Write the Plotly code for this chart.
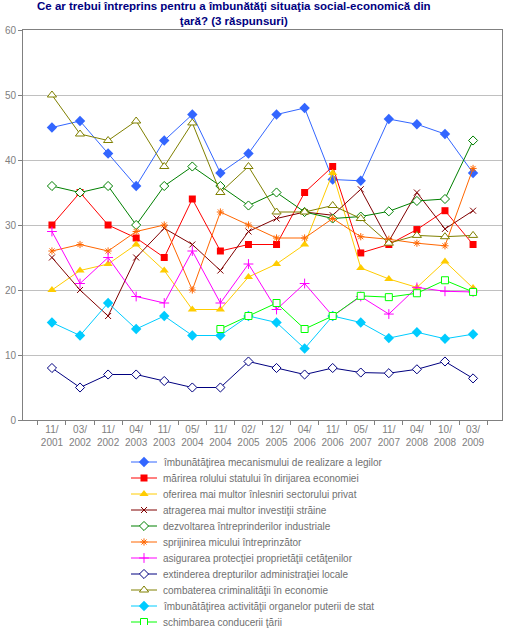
import plotly.graph_objects as go

# Perioadele sondajelor (axa X)
perioade = ["11/<br>2001", "03/<br>2002", "11/<br>2002", "04/<br>2003", "11/<br>2003",
            "05/<br>2004", "11/<br>2004", "02/<br>2005", "12/<br>2005", "04/<br>2006",
            "11/<br>2006", "05/<br>2007", "11/<br>2007", "04/<br>2008", "10/<br>2008",
            "03/<br>2009"]

# valori (%)
mecanism_legi = [45, 46, 41, 36, 43, 47, 38, 41, 47, 48, 37, 36.8, 46.3, 45.5, 44, 38]
rol_stat = [30, 35, 30, 28, 25, 34, 26, 27, 27, 35, 39, 25.7, 27, 29.3, 32.2, 27]
inlesniri_privat = [20, 23, 24, 27, 23, 17, 17, 22, 24, 27, 38, 23.4, 21.7, 20.4, 24.4, 20.3]
investitii_straine = [25, 20, 16, 25, 29.5, 27, 23, 29, 31, 32, 31.5, 35.5, 27.5, 35, 29.4, 32.2]
intreprinderi_ind = [36, 35, 36, 30, 36, 39, 36, 33, 35, 32, 31, 31.3, 32.1, 33.7, 34, 43]
mic_intreprinzator = [26, 27, 26, 29, 30, 20, 32, 30, 28, 28, 31, 28.2, 27.8, 27.2, 26.8, 38.7]
proprietate = [29, 21, 25, 19, 18, 26, 18, 24, 17, 21, 16, 19, 16.3, 20.4, 19.8, 19.7]
administratie_locala = [8, 5, 7, 7, 6, 5, 5, 9, 8, 7, 8, 7.3, 7.2, 7.8, 9, 6.4]
criminalitate = [50, 44, 43, 46, 39, 45.7, 35, 39, 32, 32, 33, 31, 27.2, 28.4, 28.2, 28.4]
organe_putere = [15, 13, 18, 14, 16, 13, 13, 16, 15, 11, 16, 15, 12.6, 13.5, 12.5, 13.2]
conducere_tara = [None, None, None, None, None, None, 14, 16, 18, 14, 16, 19.1, 18.9, 19.5, 21.5, 19.7]

# nume, valori, culoare, simbol, marime, umplut?
serii = [
    ("îmbunătăţirea mecanismului de realizare a legilor", mecanism_legi, "#3366FF", "diamond", 8, True),
    ("mărirea rolului statului în dirijarea economiei", rol_stat, "#FF0000", "square", 7, True),
    ("oferirea mai multor înlesniri sectorului privat", inlesniri_privat, "#FFCC00", "triangle-up", 8, True),
    ("atragerea mai multor investiţii străine", investitii_straine, "#800000", "x-thin-open", 6, False),
    ("dezvoltarea întreprinderilor industriale", intreprinderi_ind, "#008000", "diamond", 7, "alb"),
    ("sprijinirea micului întreprinzător", mic_intreprinzator, "#FF6600", "asterisk-open", 6, False),
    ("asigurarea protecţiei proprietăţii cetăţenilor", proprietate, "#FF00FF", "cross-thin-open", 7, False),
    ("extinderea drepturilor administraţiei locale", administratie_locala, "#000080", "diamond", 7, "alb"),
    ("combaterea criminalităţii în economie", criminalitate, "#808000", "triangle-up", 8, "alb"),
    ("îmbunătăţirea activităţii organelor puterii de stat", organe_putere, "#00CCFF", "diamond", 8, True),
    ("schimbarea conducerii ţării", conducere_tara, "#00FF00", "square", 7, "alb"),
]

GRI = "#808080"
FONT = "Liberation Sans"


def marker_style(culoare, simbol, marime, umplut):
    if umplut == "alb":
        return dict(symbol=simbol, size=marime, color="white", line=dict(color=culoare, width=1))
    if umplut:
        return dict(symbol=simbol, size=marime, color=culoare, line=dict(color=culoare, width=0))
    return dict(symbol=simbol, size=marime, color=culoare, line=dict(color=culoare, width=1))


fig = go.Figure()

for nume, valori, culoare, simbol, marime, umplut in serii:
    fig.add_trace(go.Scatter(
        x=perioade, y=valori, name=nume, mode="lines+markers",
        line=dict(color=culoare, width=1),
        marker=marker_style(culoare, simbol, marime, umplut),
        xaxis="x", yaxis="y", showlegend=False
    ))

# legenda desenata manual (legenda plotly are randuri prea inalte)
for i, (nume, valori, culoare, simbol, marime, umplut) in enumerate(serii):
    rand = 462 + 16 * i
    fig.add_trace(go.Scatter(
        x=[131, 144, 157], y=[rand] * 3, mode="lines+markers",
        line=dict(color=culoare, width=1),
        marker=dict(marker_style(culoare, simbol, marime, umplut), opacity=[0, 1, 0]),
        xaxis="x2", yaxis="y2", showlegend=False, hoverinfo="skip"
    ))
    fig.add_annotation(
        x=161, y=rand, xref="x2", yref="y2", text=nume, showarrow=False,
        xanchor="left", yanchor="middle",
        font=dict(family=FONT, size=10, color="#707070")
    )

# titlul
fig.add_annotation(
    x=0.4415, y=1, xref="paper", yref="paper", xanchor="center", yanchor="bottom",
    yshift=1, showarrow=False,
    text="<b>Ce ar trebui întreprins pentru a îmbunătăţi situaţia social-economică din<br>ţară? (3 răspunsuri)</b>",
    font=dict(family=FONT, size=11.5, color="#000080")
)

fig.update_layout(
    width=505, height=630,
    margin=dict(l=23, r=3, t=30, b=5, autoexpand=False),
    paper_bgcolor="white", plot_bgcolor="white",
    showlegend=False,
    xaxis=dict(
        type="category", anchor="y", domain=[0, 1], automargin=False,
        showline=True, linecolor=GRI, linewidth=1, mirror=True,
        ticks="outside", tickson="boundaries", ticklen=4, tickcolor=GRI,
        tickangle=0, showgrid=False, tickfont=dict(family=FONT, size=10, color=GRI)
    ),
    yaxis=dict(
        range=[0, 60], dtick=10, domain=[0.34454, 1], anchor="x", automargin=False,
        showline=True, linecolor=GRI, linewidth=1, mirror=True,
        ticks="outside", ticklen=4, tickcolor=GRI,
        showgrid=True, gridcolor="#C0C0C0", zeroline=False,
        tickfont=dict(family=FONT, size=10, color=GRI)
    ),
    xaxis2=dict(range=[23, 502], domain=[0, 1], anchor="y2", visible=False),
    yaxis2=dict(range=[625, 446.5], domain=[0, 0.3], anchor="x2", visible=False),
)

# fara marginea implicita a paginii, ca graficul sa inceapa din colt
fig.write_html("out.html", config={"displayModeBar": False},
               post_script="document.body.style.margin='0';")
